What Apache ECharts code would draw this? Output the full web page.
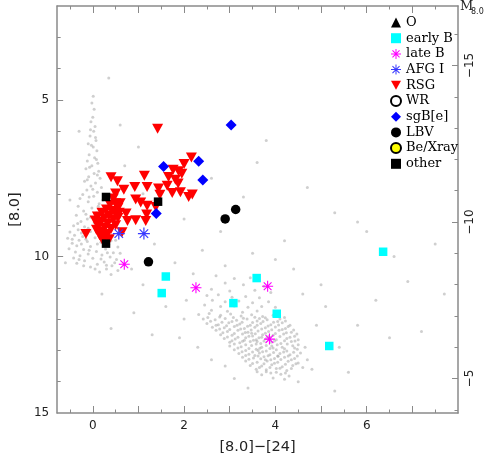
<!DOCTYPE html>
<html>
<head>
<meta charset="utf-8">
<script src="https://cdn.jsdelivr.net/npm/echarts@6/dist/echarts.min.js"></script>
<style>
  html, body { margin: 0; padding: 0; background: #fff; }
  #chart { width: 484px; height: 466px; }
</style>
</head>
<body>
<div id="chart"></div>
<script>
// distance modulus used for the right hand M_8.0 axis
var DM = 18.9;

// gray field stars (approximate)
var fieldBand = [
  [0.01,4.88],[-0.02,5.1],[0.03,5.3],[0.0,5.55],[-0.04,5.7],[0.05,5.85],[0.02,6.0],[-0.06,6.15],
  [0.07,6.3],[-0.1,6.4],[0.01,6.5],[0.09,6.62],[-0.08,6.75],[0.04,6.85],[-0.12,6.95],[0.11,7.02],
  [-0.02,7.1],[-0.15,7.2],[0.13,7.28],[0.03,7.35],[-0.09,7.45],[0.16,7.5],[-0.18,7.6],[0.06,7.65],
  [-0.04,7.75],[0.19,7.8],[-0.13,7.88],[0.1,7.95],[-0.22,8.02],[0.02,8.08],[-0.28,8.15],[0.22,8.2],
  [-0.1,8.25],[0.14,8.32],[-0.32,8.4],[-0.02,8.45],[0.28,8.5],[-0.2,8.55],[0.08,8.6],[-0.36,8.68],
  [0.18,8.72],[-0.12,8.8],[-0.26,8.88],[0.03,8.92],[0.3,8.95],[-0.42,9.02],[-0.18,9.05],[0.1,9.08],
  [-0.32,9.15],[0.36,9.12],[-0.5,9.22],[-0.05,9.2],[0.22,9.26],[-0.4,9.32],[-0.22,9.36],[0.44,9.35],
  [-0.55,9.42],[0.05,9.4],[-0.3,9.48],[0.5,9.48],[-0.12,9.52],[-0.45,9.58],[0.18,9.55],[0.35,9.62],
  [-0.35,9.66],[-0.05,9.68],[0.55,9.7],[-0.52,9.75],[-0.2,9.78],[0.28,9.76],[0.08,9.84],[-0.38,9.86],
  [0.45,9.88],[-0.1,9.92],[0.2,9.95],[-0.28,9.98],[0.38,10.02],[-0.42,10.05],[0.0,10.06],[0.52,10.1],
  [-0.18,10.14],[0.25,10.18],[-0.35,10.22],[0.1,10.25],[0.42,10.3],[-0.05,10.34],[0.3,10.4],[0.55,10.45],
  [0.15,10.5],[0.4,10.58],
  [-0.05,5.95],[0.06,6.2],[-0.03,6.45],[0.08,6.9],[-0.07,7.15],[0.1,7.4],[-0.12,7.55],[0.0,7.85],
  [-0.08,8.1],[0.12,8.4],[-0.15,8.65],[-0.05,8.75],[0.22,8.82],[-0.33,8.95],[-0.1,9.1],[0.28,9.2],
  [-0.25,9.25],[-0.15,9.45],[0.1,9.6],[-0.25,9.6],[0.4,9.5],[-0.45,9.45],[-0.08,9.8],[0.32,9.88],
  [-0.3,10.1],[0.18,10.08],[0.05,10.4],[0.3,10.28],[-0.2,10.3],[0.48,10.2]
];
var fieldClump = [
  [2.7,10.62],[3.1,10.7],[3.45,10.68],[2.9,10.85],[3.3,10.9],[3.75,10.95],[2.6,11.05],[3.0,11.1],[3.55,11.08],[3.9,11.15],
  [2.5,11.25],[2.75,11.22],[3.05,11.3],[3.35,11.28],[3.65,11.32],[2.62,11.4],[2.9,11.45],[3.2,11.42],[3.5,11.48],[3.85,11.45],
  [2.45,11.55],[2.8,11.6],[3.1,11.58],[3.4,11.62],[3.7,11.6],[4.0,11.62],[2.6,11.72],[2.95,11.75],[3.28,11.78],[3.6,11.74],
  [2.32,11.85],[2.55,11.82],[2.8,11.88],[3.02,11.84],[3.25,11.9],[3.48,11.86],[3.72,11.92],[3.95,11.88],[4.2,11.95],[2.42,12.0],
  [2.68,12.02],[2.9,11.98],[3.15,12.04],[3.38,12.0],[3.6,12.06],[3.82,12.02],[4.05,12.08],[2.5,12.14],[2.75,12.18],[2.98,12.12],
  [3.22,12.16],[3.45,12.2],[3.68,12.14],[3.9,12.18],[4.15,12.12],[4.32,12.2],[2.62,12.26],[2.88,12.28],[3.1,12.24],[3.32,12.3],
  [3.55,12.26],[3.78,12.28],[4.0,12.25],[4.22,12.3],[3.65,11.98],
  [2.7,12.36],[2.95,12.4],[3.18,12.36],[3.4,12.42],[3.62,12.38],[3.85,12.4],[4.08,12.36],[4.35,12.42],[2.8,12.5],[3.05,12.52],
  [3.28,12.48],[3.5,12.54],[3.72,12.5],[3.95,12.52],[4.18,12.48],[4.42,12.55],[2.88,12.62],[3.12,12.64],[3.35,12.6],[3.58,12.66],
  [3.8,12.62],[4.02,12.66],[4.25,12.62],[3.0,12.74],[3.22,12.76],[3.45,12.72],[3.68,12.78],[3.9,12.74],[4.12,12.78],[4.35,12.72],
  [4.5,12.66],[3.48,12.45],[3.7,12.58],[3.32,12.68],[3.6,12.72],[3.85,12.56],
  [3.0,12.86],[3.25,12.88],[3.48,12.84],[3.7,12.9],[3.92,12.86],[4.15,12.9],[4.38,12.85],[3.1,12.98],[3.35,13.0],[3.58,12.96],
  [3.8,13.02],[4.02,12.98],[4.25,13.02],[4.48,12.96],[3.2,13.1],[3.42,13.12],[3.65,13.08],[3.88,13.14],[4.1,13.1],[4.32,13.14],
  [4.55,13.08],[3.28,13.22],[3.52,13.24],[3.75,13.2],[3.98,13.26],[4.2,13.22],[4.42,13.26],[3.62,13.0],[3.88,12.94],[3.55,13.16],
  [3.78,13.3],[4.05,13.18],
  [3.35,13.34],[3.6,13.38],[3.82,13.34],[4.05,13.38],[4.28,13.35],[4.5,13.4],[3.45,13.48],[3.7,13.5],[3.92,13.46],[4.15,13.52],
  [4.38,13.48],[3.58,13.6],[3.8,13.62],[4.02,13.58],[4.25,13.64],[3.9,13.72],[4.12,13.76],[3.7,13.78],[4.3,13.82],[3.95,13.88],
  [4.2,13.92],[4.6,13.55],[4.7,13.3],[4.65,12.9],
  [2.52,11.95],[2.78,11.93],[3.08,11.95],[3.3,11.97],[3.55,11.94],[3.78,11.96],[4.1,12.0],
  [2.58,12.07],[2.83,12.1],[3.05,12.08],[3.27,12.1],[3.5,12.11],[3.73,12.08],[3.96,12.1],[4.22,12.06],
  [2.7,12.2],[2.93,12.21],[3.16,12.2],[3.39,12.23],[3.6,12.2],[3.84,12.22],[4.07,12.19],[4.28,12.24],
  [2.78,12.32],[3.0,12.33],[3.24,12.32],[3.47,12.35],[3.7,12.32],[3.92,12.34],[4.15,12.33],[4.4,12.35],
  [2.85,12.44],[3.1,12.46],[3.34,12.43],[3.56,12.47],[3.78,12.45],[4.0,12.46],[4.24,12.44],[4.47,12.48],
  [2.95,12.57],[3.18,12.58],[3.42,12.55],[3.64,12.6],[3.88,12.58],[4.1,12.56],[4.32,12.58],
  [3.05,12.69],[3.28,12.71],[3.52,12.68],[3.75,12.7],[3.98,12.7],[4.2,12.69],[4.43,12.7],
  [3.1,12.8],[3.35,12.82],[3.58,12.8],[3.8,12.84],[4.04,12.82],[4.26,12.8],[4.5,12.82],
  [3.18,12.92],[3.42,12.94],[3.66,12.93],[3.95,12.92],[4.2,12.95],[4.42,12.92],
  [3.27,13.04],[3.5,13.05],[3.72,13.04],[3.96,13.07],[4.18,13.05],[4.4,13.06],
  [3.35,13.16],[3.62,13.18],[3.84,13.17],[4.06,13.19],[4.28,13.18],[4.48,13.18],
  [3.42,13.28],[3.68,13.27],[3.9,13.3],[4.12,13.29],[4.35,13.3],
  [3.5,13.42],[3.75,13.43],[3.98,13.41],[4.22,13.44],[4.45,13.43],
  [3.65,13.55],[3.88,13.55],[4.1,13.57],[4.35,13.58],
  [3.8,13.68],[4.02,13.7],[4.22,13.72],[3.6,13.68]
];
var fieldSparse = [
  [0.6,9.9],[0.85,10.4],[1.1,10.9],[1.35,9.6],[1.8,10.2],[2.05,11.4],[2.2,10.55],[1.6,11.6],[2.4,9.8],[2.0,12.0],
  [1.9,12.6],[2.3,12.9],[2.6,13.3],[2.9,13.5],[3.1,13.9],[4.9,12.2],[4.8,13.6],[5.1,11.6],[5.4,12.9],[5.6,13.7],
  [4.6,11.2],[4.4,10.4],[5.0,10.9],[5.8,12.2],[6.2,11.4],[6.5,12.6],[7.2,12.4],[6.9,10.8],[7.5,9.6],[6.0,9.2],
  [5.3,8.6],[4.2,9.5],[3.5,9.9],[2.8,9.2],[3.3,8.1],[2.6,7.5],[3.6,7.0],[1.0,6.5],[0.6,5.8],[0.35,4.3],
  [-0.3,6.0],[-0.5,8.2],[-0.6,10.2],[0.9,11.8],[1.3,12.5],[2.9,10.3],[4.0,10.1],[3.4,14.2],[4.5,14.0],[5.3,14.3],
  [0.4,12.3],[0.2,11.2],[1.1,8.0],[2.0,8.8],[3.8,6.3],[4.7,7.8],[5.8,8.9],[6.6,10.0],[7.7,11.2],[0.7,7.1]
];

// classified stars: [[8.0]-[24], [8.0]]
var oStars = [];
var earlyB = [[6.36,9.85],[1.6,10.64],[1.51,11.17],[3.59,10.69],[3.08,11.49],[4.03,11.83],[5.18,12.86]];
var lateB = [[0.69,10.25],[2.26,11.0],[3.83,10.95],[3.87,12.64]];
var afgI = [[0.57,9.27],[1.12,9.27]];
var rsg = [
  [1.42,5.92],
  [2.16,6.84],[2.0,7.05],[1.76,7.23],[1.88,7.28],[1.95,7.36],[1.66,7.46],[1.81,7.55],[1.63,7.74],
  [1.87,7.67],[1.74,7.97],[1.92,7.95],[2.1,8.1],[2.18,8.02],
  [0.40,7.47],[0.54,7.6],[1.13,7.42],[0.92,7.78],[1.19,7.78],[0.68,7.87],[1.44,7.83],[1.47,8.03],
  [0.5,7.99],[0.94,8.18],[1.05,8.28],[1.19,8.38],[1.38,8.42],[0.73,8.63],[0.76,8.87],[0.94,8.84],
  [1.18,8.66],[1.16,8.87],[0.55,8.77],[0.64,9.23],[-0.15,9.28],
  [0.45,8.15],[0.5,8.3],[0.38,8.35],[0.55,8.45],[0.3,8.5],[0.42,8.55],[0.2,8.6],[0.52,8.65],
  [0.35,8.7],[0.1,8.72],[0.25,8.78],[0.45,8.82],[0.05,8.85],[0.18,8.9],[0.33,8.95],[0.5,9.0],
  [0.12,9.02],[0.26,9.08],[0.4,9.12],[0.08,9.15],[0.2,9.22],[0.32,9.28],[0.15,9.32],[0.27,9.4],
  [0.36,9.45],[0.22,9.5],[0.58,8.6],[0.6,8.3]
];
var wr = [];
var sgBe = [[3.03,5.80],[2.32,6.96],[1.55,7.13],[2.41,7.56],[1.39,8.63]];
var lbv = [[3.13,8.5],[2.9,8.8],[1.22,10.17]];
var beXray = [];
var other = [[0.29,8.1],[1.43,8.25],[0.29,9.59]];

var xLabels = [0, 2, 4, 6];
var xMajor = [0, 1, 2, 3, 4, 5, 6, 7];
var xMinor = [-0.5, 0.5, 1.5, 2.5, 3.5, 4.5, 5.5, 6.5, 7.5];
var yLabels = [5, 10, 15];
var yMajor = [5, 10];
var yMinor = [3, 4, 6, 7, 8, 9, 11, 12, 13, 14];
var mLabels = [-15, -10, -5];
var mMajor = [-15, -10, -5];
var mMinor = [-16, -14, -13, -12, -11, -9, -8, -7, -6, -4];

var triDown = 'path://M0,0L10,0L5,9Z';
var star = 'path://M-5,-0.5L5,-0.5L5,0.5L-5,0.5Z M-0.5,-5L0.5,-5L0.5,5L-0.5,5Z ' +
  'M-3.18,-3.89L3.89,3.18L3.18,3.89L-3.89,-3.18Z M-3.89,3.18L3.18,-3.89L3.89,-3.18L-3.18,3.89Z';

var tickCol = '#8a8a8a';
var sans = 'DejaVu Sans';

function frame(show) {
  return { show: show, onZero: false, lineStyle: { color: '#8a8a8a', width: 1.5 } };
}
function xAx(pos, ticks, len, labels) {
  return {
    type: 'value', position: pos, min: -0.78, max: 8, scale: true,
    axisLine: frame(len > 4),
    splitLine: { show: false },
    axisTick: { inside: true, length: len, customValues: ticks, lineStyle: { color: tickCol, width: 1 } },
    axisLabel: labels ? { customValues: labels, margin: 7, color: '#222', fontFamily: sans, fontSize: 12 } : { show: false }
  };
}
function yAx(pos, min, max, ticks, len, labels, extra) {
  var a = {
    type: 'value', position: pos, min: min, max: max, inverse: true,
    axisLine: frame(len > 4),
    splitLine: { show: false },
    axisTick: { inside: true, length: len, customValues: ticks, lineStyle: { color: tickCol, width: 1 } },
    axisLabel: labels ? { customValues: labels, margin: 8, color: '#222', fontFamily: sans, fontSize: 12 } : { show: false }
  };
  return Object.assign(a, extra || {});
}

var xMain = xAx('bottom', xMajor, 7, xLabels);
xMain.name = '[8.0]\u2212[24]';
xMain.nameLocation = 'middle';
xMain.nameGap = 27;
xMain.nameTextStyle = { fontFamily: sans, fontSize: 14.5, color: '#222' };

var yMain = yAx('left', 2, 15, yMajor, 6, yLabels, {
  name: '[8.0]', nameLocation: 'middle', nameGap: 30,
  nameTextStyle: { fontFamily: sans, fontSize: 14.5, color: '#222' }
});
var mMain = yAx('right', 2 - DM, 15 - DM, mMajor, 6, mLabels);
mMain.axisLabel.rotate = 90;
mMain.axisLabel.margin = 6;
mMain.axisLabel.formatter = function (v) { return String(v).replace('-', '\u2212'); };

var dom = document.getElementById('chart');
var myChart = echarts.init(dom, null, { renderer: 'canvas' });

var option = {
  animation: false,
  backgroundColor: '#fff',
  grid: { left: 52, right: 26, top: 6, bottom: 53 },
  xAxis: [
    xMain,
    xAx('bottom', xMinor, 3.5, null),
    xAx('top', xMajor, 7, null),
    xAx('top', xMinor, 3.5, null)
  ],
  yAxis: [
    yMain,
    yAx('left', 2, 15, yMinor, 3.5, null),
    mMain,
    yAx('right', 2 - DM, 15 - DM, mMinor, 3.5, null)
  ],
  legend: {
    orient: 'vertical', left: 390, top: 16, padding: 0,
    itemWidth: 10, itemHeight: 10, itemGap: 2.7,
    selectedMode: false,
    textStyle: { fontFamily: 'DejaVu Serif', fontSize: 13, color: '#000' },
    data: ['O', 'early B', 'late B', 'AFG I', 'RSG', 'WR', 'sgB[e]', 'LBV', 'Be/Xray', 'other']
  },
  graphic: [
    { type: 'text', left: 460, top: 0, style: { text: 'M', font: '13px "DejaVu Serif"', fill: '#222' } },
    { type: 'text', left: 471, top: 8, style: { text: '8.0', font: '8px "DejaVu Sans"', fill: '#222' } }
  ],
  series: [
    { name: 'field', type: 'scatter', data: fieldBand.concat(fieldClump, fieldSparse),
      symbol: 'circle', symbolSize: 3, silent: true,
      itemStyle: { color: '#a8a8a8', opacity: 0.55 } },
    { name: 'RSG', type: 'scatter', data: rsg, symbol: triDown, symbolSize: [11, 10],
      itemStyle: { color: '#ff0000', opacity: 1 } },
    { name: 'O', type: 'scatter', data: oStars, symbol: 'triangle', symbolSize: 10,
      itemStyle: { color: '#000', opacity: 1 } },
    { name: 'early B', type: 'scatter', data: earlyB, symbol: 'rect', symbolSize: 8.5,
      itemStyle: { color: '#00ffff', opacity: 1 } },
    { name: 'late B', type: 'scatter', data: lateB, symbol: star, symbolSize: 11,
      itemStyle: { color: '#ff00ff', opacity: 1 } },
    { name: 'AFG I', type: 'scatter', data: afgI, symbol: star, symbolSize: 12,
      itemStyle: { color: '#3a3aff', opacity: 1 } },
    { name: 'WR', type: 'scatter', data: wr, symbol: 'circle', symbolSize: 10,
      itemStyle: { color: '#fff', borderColor: '#000', borderWidth: 1, opacity: 1 } },
    { name: 'sgB[e]', type: 'scatter', data: sgBe, symbol: 'diamond', symbolSize: 11,
      itemStyle: { color: '#0000ff', opacity: 1 } },
    { name: 'LBV', type: 'scatter', data: lbv, symbol: 'circle', symbolSize: 9.5,
      itemStyle: { color: '#000', opacity: 1 } },
    { name: 'Be/Xray', type: 'scatter', data: beXray, symbol: 'circle', symbolSize: 10,
      itemStyle: { color: '#ffff00', borderColor: '#000', borderWidth: 1, opacity: 1 } },
    { name: 'other', type: 'scatter', data: other, symbol: 'rect', symbolSize: 8.5,
      itemStyle: { color: '#000', opacity: 1 } }
  ]
};
if (option && typeof option === 'object') {
  myChart.setOption(option, true);
}
</script>
</body>
</html>
